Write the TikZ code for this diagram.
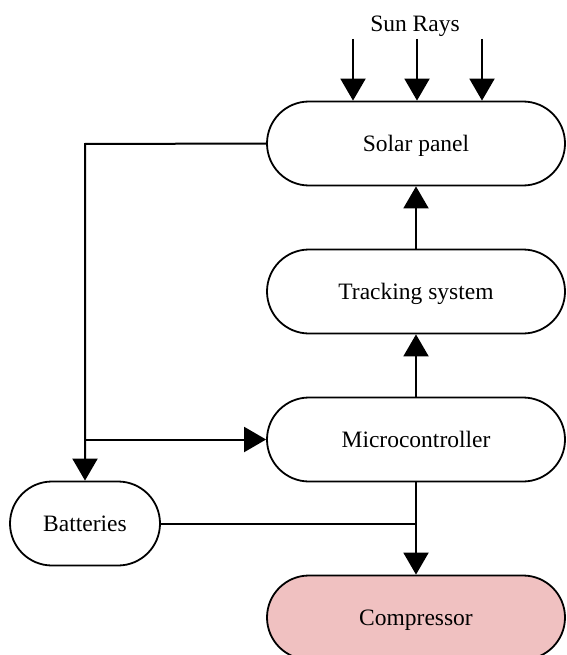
\documentclass[tikz,border=0pt]{standalone}
\usepackage{fontspec}
\setmainfont{Liberation Serif}
\usetikzlibrary{arrows.meta}
\definecolor{comppink}{RGB}{240,193,193}
\tikzset{
  stadium/.style={draw=black, line width=1.8pt, fill=white, rounded corners=42pt,
    minimum width=298pt, minimum height=84pt, inner sep=0pt,
    text height=21pt, text depth=5pt,
    font=\fontsize{23.5pt}{28pt}\selectfont},
  flow/.style={line width=2pt, -{Triangle[width=25pt,length=22pt]}},
  plain/.style={line width=2pt},
}
\begin{document}
\begin{tikzpicture}[x=1pt,y=-1pt]
  \useasboundingbox (0,0) rectangle (566,655);

  % process blocks
  \node[stadium] (solar) at (416,143.5) {Solar panel};
  \node[stadium] (track) at (416,291.5) {Tracking system};
  \node[stadium] (micro) at (416,439.5) {Microcontroller};
  \node[stadium, minimum width=150pt] (batt) at (85,523.5) {Batteries};
  \node[stadium, fill=comppink] (comp) at (416,617.5) {Compressor};

  % incoming sunlight
  \node[font=\fontsize{23.5pt}{28pt}\selectfont] (sun) at (415,26) {Sun Rays};
  \coordinate (r1) at (353,39);
  \coordinate (r2) at (417,39);
  \coordinate (r3) at (482,39);
  \draw[flow] (r1) -- (r1 |- solar.north);
  \draw[flow] (r2) -- (r2 |- solar.north);
  \draw[flow] (r3) -- (r3 |- solar.north);

  % control chain
  \draw[flow] (micro.north) -- (track.south);
  \draw[flow] (track.north) -- (solar.south);

  % power distribution
  \coordinate (corner) at (85,144);
  \coordinate (branch) at (85,439.5);
  \draw[flow] (solar.west) -- (corner) -- (batt.north);
  \draw[flow] (branch) -- (micro.west);
  \draw[flow] (micro.south) -- (comp.north);
  \coordinate (join) at (417,523.5);
  \draw[plain] (batt.east) -- (join);
\end{tikzpicture}
\end{document}
